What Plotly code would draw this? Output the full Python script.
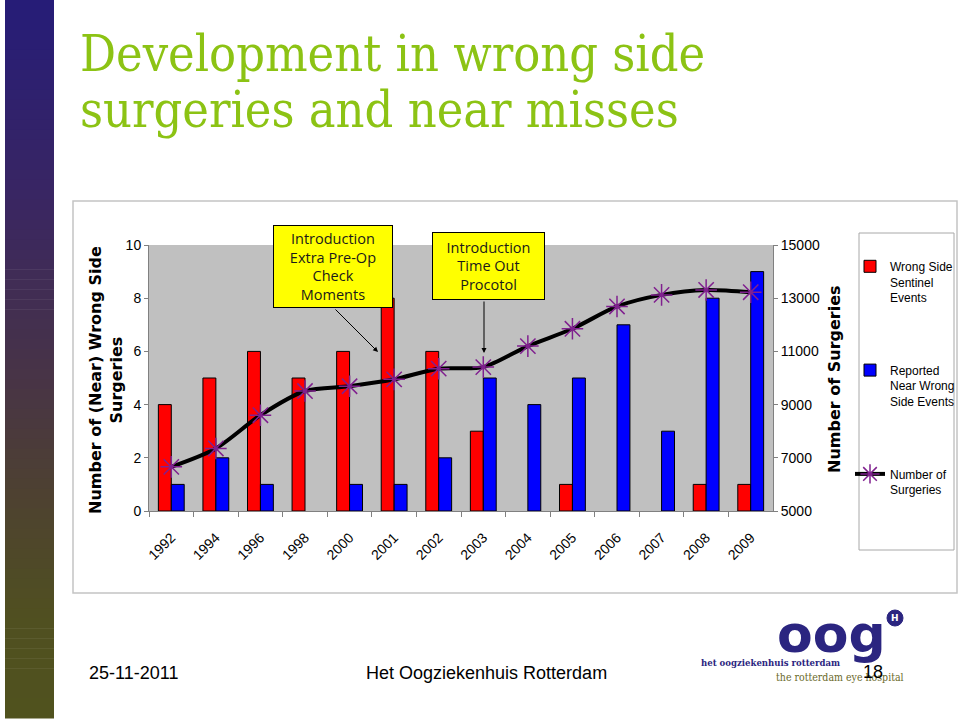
import plotly.graph_objects as go

# ---------------- data ----------------
years = ["1992", "1994", "1996", "1998", "2000", "2001", "2002", "2003",
         "2004", "2005", "2006", "2007", "2008", "2009"]
wrong_side_events = [4, 5, 6, 5, 6, 8, 6, 3, 0, 1, 0, 0, 1, 1]
near_wrong_side_events = [1, 2, 1, 0, 1, 1, 2, 5, 4, 5, 7, 3, 8, 9]
number_of_surgeries = [6660, 7350, 8600, 9510, 9690, 9950, 10350, 10410,
                       11200, 11850, 12690, 13125, 13310, 13225]

series_names = ["Wrong Side<br>Sentinel<br>Events",
                "Reported<br>Near Wrong<br>Side Events",
                "Number of<br>Surgeries"]

W, H = 960, 722


def px(x):
    return x / W


def py(y):
    return 1 - y / H


NARROW = "Liberation Sans Narrow, Arial Narrow, Liberation Sans, Arial, sans-serif"
ARIAL = "Liberation Sans, Arial, sans-serif"

fig = go.Figure()

fig.add_trace(go.Bar(
    x=years, y=wrong_side_events, name=series_names[0],
    marker=dict(color="#ff0000",
                line=dict(color="#000000", width=[1 if v else 0 for v in wrong_side_events])),
    legendgroup="a", yaxis="y"))
fig.add_trace(go.Bar(
    x=years, y=near_wrong_side_events, name=series_names[1],
    marker=dict(color="#0000ff",
                line=dict(color="#000000", width=[1 if v else 0 for v in near_wrong_side_events])),
    legendgroup="b", yaxis="y"))
fig.add_trace(go.Scatter(
    x=years, y=number_of_surgeries, name=series_names[2],
    mode="lines+markers", yaxis="y2", legendgroup="c",
    line=dict(color="#000000", width=4, shape="spline", smoothing=0.8),
    marker=dict(symbol="asterisk-open", size=18, color="#80208f",
                line=dict(color="#80208f", width=1.5))))

shapes = []
# left decorative gradient bar
stops = [(0, (38, 28, 120)), (200, (58, 38, 98)), (380, (72, 52, 70)),
         (500, (78, 66, 48)), (620, (80, 80, 32)), (718, (80, 82, 30))]
n = 72
for i in range(n):
    y0 = 718 * i / n
    y1 = 718 * (i + 1) / n
    ym = (y0 + y1) / 2
    for j in range(len(stops) - 1):
        if stops[j][0] <= ym <= stops[j + 1][0]:
            t = (ym - stops[j][0]) / (stops[j + 1][0] - stops[j][0])
            c = [round(stops[j][1][k] + t * (stops[j + 1][1][k] - stops[j][1][k])) for k in range(3)]
            break
    shapes.append(dict(type="rect", xref="paper", yref="paper",
                       x0=px(5), x1=px(54), y0=py(y1 + 0.6), y1=py(y0),
                       fillcolor=f"rgb({c[0]},{c[1]},{c[2]})", line=dict(width=0),
                       layer="below"))
# chart border
shapes.append(dict(type="rect", xref="paper", yref="paper",
                   x0=px(73), x1=px(957), y0=py(593), y1=py(201),
                   line=dict(color="#c4c4c4", width=1.5), layer="below"))
# legend frame
shapes.append(dict(type="rect", xref="paper", yref="paper",
                   x0=px(859), x1=px(954), y0=py(550), y1=py(233),
                   fillcolor="#ffffff", line=dict(color="#a8a8a8", width=1), layer="above"))
# logo circle
shapes.append(dict(type="circle", xref="paper", yref="paper",
                   x0=px(887), x1=px(903), y0=py(626), y1=py(610),
                   fillcolor="#2b2580", line=dict(color="#2b2580", width=1)))

annotations = []


def note(text, x, y, size, family, color="#000000", xanchor="center", yanchor="middle", **kw):
    annotations.append(dict(text=text, xref="paper", yref="paper", x=px(x), y=py(y),
                            xanchor=xanchor, yanchor=yanchor, showarrow=False,
                            font=dict(family=family, size=size, color=color), **kw))


SLAB = "DejaVu Serif Condensed, DejaVu Serif, serif"
# title (two lines)
note("Development in wrong side", 78, 54, 50, SLAB, "#8cc314", xanchor="left")
note("surgeries and near misses", 78, 110, 50, SLAB, "#8cc314", xanchor="left")

# axis titles
note("<b>Number of (Near) Wrong Side<br>Surgeries</b>", 106, 380, 16,
     "DejaVu Sans, sans-serif", textangle=-90)
note("<b>Number of Surgeries</b>", 834, 379, 16, "DejaVu Sans, sans-serif", textangle=-90)

# yellow call-out boxes
BOX = "Open Sans, Noto Sans, sans-serif"
note("Introduction<br>Extra Pre-Op<br>Check<br>Moments", 333, 266, 14.5, BOX, "#1a1a1a",
     bgcolor="#ffff00", bordercolor="#000000", borderwidth=1, borderpad=2,
     width=114, height=77)
note("Introduction<br>Time Out<br>Procotol", 488, 266, 14.5, BOX, "#1a1a1a",
     bgcolor="#ffff00", bordercolor="#000000", borderwidth=1, borderpad=2,
     width=107, height=62)
# arrows
annotations.append(dict(
    text="", xref="paper", yref="paper", x=px(378), y=py(352),
    ax=334 - 378, ay=308 - 352, axref="pixel", ayref="pixel",
    showarrow=True, arrowhead=2, arrowsize=1, arrowwidth=1, arrowcolor="#000000"))
annotations.append(dict(
    text="", xref="paper", yref="paper", x=px(484), y=py(353),
    ax=0, ay=300 - 353, axref="pixel", ayref="pixel",
    showarrow=True, arrowhead=2, arrowsize=1, arrowwidth=1, arrowcolor="#000000"))

# footer
note("25-11-2011", 87, 673, 18, ARIAL, xanchor="left")
note("Het Oogziekenhuis Rotterdam", 486, 673, 18, ARIAL)
# logo
note("<b>oog</b>", 831, 634, 52, "DejaVu Sans, sans-serif", "#2b2580")
note("<b>H</b>", 895, 618, 9, "DejaVu Sans, sans-serif", "#ffffff")
note("<b>het oogziekenhuis rotterdam</b>", 770, 662, 9.5, SLAB, "#2b2580")
note("the rotterdam eye hospital", 840, 677, 10.5, SLAB, "#6b6a2a")
note("18", 873, 672, 18, ARIAL)

fig.update_layout(
    width=W, height=H, autosize=False,
    margin=dict(l=0, r=0, t=0, b=0, pad=0, autoexpand=False),
    paper_bgcolor="#ffffff", plot_bgcolor="#c0c0c0",
    barmode="group", bargap=0.42, bargroupgap=0,
    showlegend=True,
    legend=dict(x=px(850), y=py(252), xanchor="left", yanchor="top",
                bgcolor="rgba(0,0,0,0)", borderwidth=0,
                font=dict(family=NARROW, size=12, color="#000000"),
                valign="top", tracegroupgap=54, itemwidth=30,
                traceorder="grouped"),
    xaxis=dict(domain=[px(149), px(773)], type="category", range=[-0.5, 13.5],
               automargin=False,
               showline=True, linecolor="#808080", linewidth=1,
               ticks="outside", tickson="boundaries", ticklen=5, tickcolor="#808080",
               tickangle=-45, ticklabelstandoff=12,
               tickfont=dict(family=NARROW, size=14, color="#000000"),
               showgrid=False, zeroline=False, fixedrange=True),
    yaxis=dict(domain=[py(511), py(245)], range=[0, 10], tick0=0, dtick=2,
               automargin=False,
               showline=True, linecolor="#808080", linewidth=1,
               ticks="outside", ticklen=4, tickcolor="#808080",
               tickfont=dict(family=NARROW, size=14, color="#000000"),
               showgrid=False, zeroline=False),
    yaxis2=dict(overlaying="y", side="right", range=[5000, 15000], tick0=5000, dtick=2000,
                tickformat="d", automargin=False,
                showline=True, linecolor="#808080", linewidth=1,
                ticks="outside", ticklen=4, tickcolor="#808080",
                tickfont=dict(family=NARROW, size=14, color="#000000"),
                showgrid=False, zeroline=False),
    shapes=shapes, annotations=annotations,
)

fig.write_html(
    "out.html",
    config={"displayModeBar": False, "responsive": False},
    post_script=(
        "document.body.style.margin='0';document.body.style.padding='0';"
        "document.body.style.overflow='hidden';"
        "var d=document.getElementById('{plot_id}');"
        "d.style.position='fixed';d.style.left='0px';d.style.top='0px';"
    ))
